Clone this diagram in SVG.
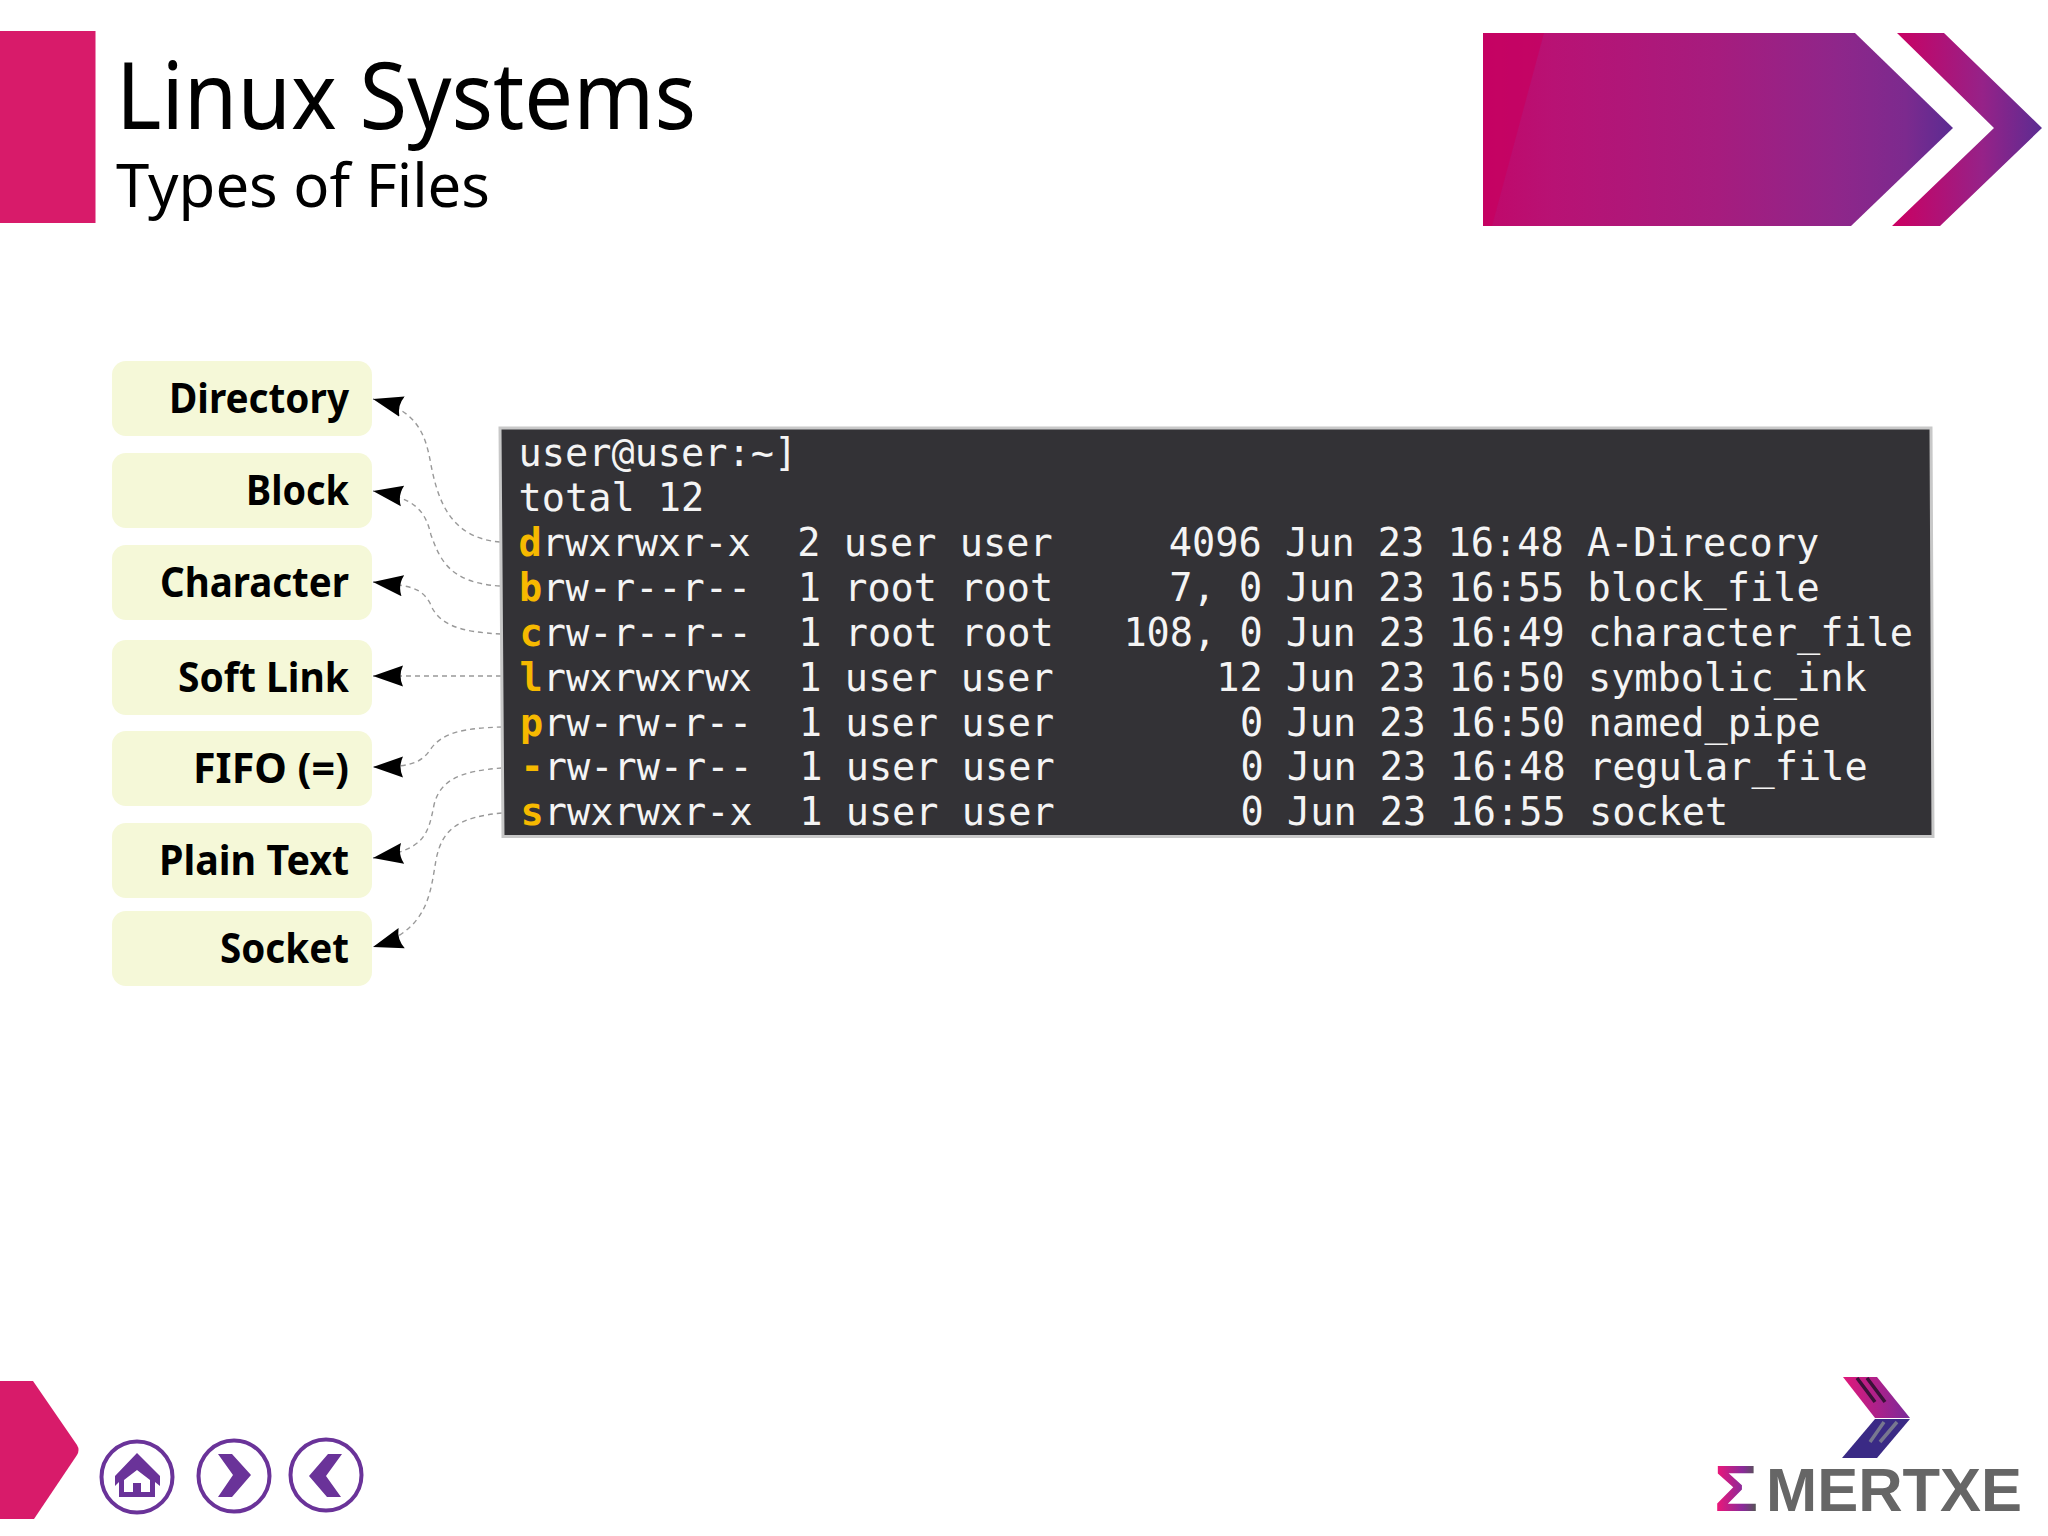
<svg xmlns="http://www.w3.org/2000/svg" width="2048" height="1536" viewBox="0 0 2048 1536">
<defs>
<style>
.node rect{fill:#f5f8d8}
.node text{font-family:"Noto Sans","Open Sans",sans-serif;font-weight:700;font-size:41px;fill:#000}
.head{font-family:"Noto Sans","Open Sans",sans-serif;fill:#000}
.conn{fill:none;stroke:#999;stroke-width:1.4;stroke-dasharray:5 4;marker-end:url(#stealth)}
.term text{font-family:"DejaVu Sans Mono","Liberation Mono",monospace;font-size:38.6px;fill:#f4f4f4;white-space:pre}
.term tspan{font-weight:700;fill:#f6b900}
.btn circle{fill:#fff;stroke:#6a3399;stroke-width:4}
.btn path{fill:#6a3399}
</style>
<linearGradient id="g1" gradientUnits="userSpaceOnUse" x1="1483" y1="0" x2="1953" y2="0">
<stop offset="0" stop-color="#c0086a"/><stop offset=".15" stop-color="#b81274"/><stop offset=".5" stop-color="#a61c7e"/><stop offset=".75" stop-color="#8f268a"/><stop offset=".9" stop-color="#7c2a8e"/><stop offset="1" stop-color="#5b2c92"/>
</linearGradient>
<linearGradient id="g2" gradientUnits="userSpaceOnUse" x1="1893" y1="0" x2="2042" y2="0">
<stop offset="0" stop-color="#cb0062"/><stop offset=".6" stop-color="#962288"/><stop offset="1" stop-color="#5b2c92"/>
</linearGradient>
<linearGradient id="g3" gradientUnits="userSpaceOnUse" x1="1843" y1="0" x2="1910" y2="0">
<stop offset="0" stop-color="#e0187a"/><stop offset="1" stop-color="#7a2a9a"/>
</linearGradient>
<linearGradient id="g4" gradientUnits="userSpaceOnUse" x1="1718" y1="0" x2="1756" y2="0">
<stop offset="0" stop-color="#e8187a"/><stop offset=".65" stop-color="#8a2a9a"/><stop offset="1" stop-color="#555"/>
</linearGradient>
<marker id="stealth" markerUnits="userSpaceOnUse" markerWidth="32" markerHeight="24" viewBox="0 0 32 24" refX="30" refY="12" orient="auto">
<path d="M30,12L0,1.5Q5,12 0,22.5Z" fill="#000"/>
</marker>
</defs>
<rect width="2048" height="1536" fill="#fff"/>

<g id="header">
<rect x="0" y="31" width="95.500" height="192" fill="#d81b6a"/>
<text class="head" x="116" y="129" font-size="93" textLength="580" lengthAdjust="spacingAndGlyphs">Linux Systems</text>
<text class="head" x="116" y="207" font-size="61" textLength="374" lengthAdjust="spacingAndGlyphs">Types of Files</text>
<polygon points="1483,33 1855,33 1953,128 1851,226 1483,226" fill="url(#g1)"/>
<polygon points="1483,33 1544,33 1492,226 1483,226" fill="#c8005f" fill-opacity=".7"/>
<polygon points="1897,33 1944,33 2042,128 1940,226 1892,226 1994,128" fill="url(#g2)"/>
</g>

<g id="connectors">
<path class="conn" d="M500,542C450,538 438,500 431,465C425,430 415,410 373,399"/>
<path class="conn" d="M500,586C450,583 440,560 431,535C425,510 415,498 373,491"/>
<path class="conn" d="M501,634C460,632 438,625 430,603C420,585 405,586 373,582"/>
<path class="conn" d="M501,676L373,676"/>
<path class="conn" d="M502,727C465,728 442,732 430,750C420,765 405,767 373,767"/>
<path class="conn" d="M502,768C460,771 440,780 434,805C428,835 425,850 373,858"/>
<path class="conn" d="M502,813C460,817 442,828 436,860C430,895 428,930 373,947"/>
</g>

<g id="node-directory" class="node"><rect x="112" y="361" width="260" height="75" rx="14"/><text x="169" y="413" textLength="180" lengthAdjust="spacingAndGlyphs">Directory</text></g>
<g id="node-block" class="node"><rect x="112" y="453" width="260" height="75" rx="14"/><text x="246" y="505" textLength="103" lengthAdjust="spacingAndGlyphs">Block</text></g>
<g id="node-character" class="node"><rect x="112" y="545" width="260" height="75" rx="14"/><text x="160" y="597" textLength="189" lengthAdjust="spacingAndGlyphs">Character</text></g>
<g id="node-softlink" class="node"><rect x="112" y="640" width="260" height="75" rx="14"/><text x="178" y="692" textLength="171" lengthAdjust="spacingAndGlyphs">Soft Link</text></g>
<g id="node-fifo" class="node"><rect x="112" y="731" width="260" height="75" rx="14"/><text x="193" y="783" textLength="156" lengthAdjust="spacingAndGlyphs">FIFO (=)</text></g>
<g id="node-plaintext" class="node"><rect x="112" y="823" width="260" height="75" rx="14"/><text x="159" y="875" textLength="190" lengthAdjust="spacingAndGlyphs">Plain Text</text></g>
<g id="node-socket" class="node"><rect x="112" y="911" width="260" height="75" rx="14"/><text x="220" y="963" textLength="129" lengthAdjust="spacingAndGlyphs">Socket</text></g>

<g id="terminal" class="term">
<polygon points="500,428 1931,428 1933,836.500 503,836.500" fill="#333236" stroke="#c8c8c8" stroke-width="3"/>
<text x="518.500" y="466">user@user:~]</text>
<text x="518.500" y="511">total 12</text>
<text x="518.500" y="555.500"><tspan>d</tspan>rwxrwxr-x  2 user user     4096 Jun 23 16:48 A-Direcory</text>
<text x="519" y="600.500"><tspan>b</tspan>rw-r--r--  1 root root     7, 0 Jun 23 16:55 block_file</text>
<text x="519.500" y="645.500"><tspan>c</tspan>rw-r--r--  1 root root   108, 0 Jun 23 16:49 character_file</text>
<text x="519.500" y="690.500"><tspan>l</tspan>rwxrwxrwx  1 user user       12 Jun 23 16:50 symbolic_ink</text>
<text x="520" y="735.500"><tspan>p</tspan>rw-rw-r--  1 user user        0 Jun 23 16:50 named_pipe</text>
<text x="520.500" y="780"><tspan>-</tspan>rw-rw-r--  1 user user        0 Jun 23 16:48 regular_file</text>
<text x="520.500" y="825"><tspan>s</tspan>rwxrwxr-x  1 user user        0 Jun 23 16:55 socket</text>
</g>

<g id="footer">
<path d="M0,1381H33L77,1445Q80,1450 77,1455L34,1519H0Z" fill="#d81b6a"/>
<g id="btn-home" class="btn"><circle cx="137" cy="1477" r="35.500"/>
<path d="M137,1453L160,1476V1486L155,1482V1497H119V1482L115,1486V1476ZM124,1480V1492H133V1483H141V1492H150V1480L137,1470Z" fill-rule="evenodd"/></g>
<g id="btn-next" class="btn"><circle cx="234" cy="1476" r="35.500"/>
<path d="M218,1454H232L251,1475L232,1497H218L233,1475Z"/></g>
<g id="btn-prev" class="btn"><circle cx="326" cy="1475" r="35.500"/>
<path d="M342,1454H328L309,1476L327,1497H341L326,1476Z"/></g>
</g>

<g id="logo">
<polygon points="1843,1377 1877,1377 1910,1418 1875,1418" fill="url(#g3)"/>
<polygon points="1875,1419 1910,1419 1877,1458 1842,1458" fill="#3a2a85"/>
<path d="M1857,1378L1875,1402M1867,1378L1885,1402" stroke="#3a1238" stroke-width="3.500" fill="none"/>
<path d="M1884,1422L1870,1442M1897,1422L1880,1442" stroke="#77778f" stroke-width="3.500" fill="none"/>
<text x="1714" y="1511" font-family="Liberation Sans,sans-serif" font-weight="700" font-size="64" fill="url(#g4)" textLength="44" lengthAdjust="spacingAndGlyphs">Σ</text>
<text x="1766" y="1511" font-family="Liberation Sans,sans-serif" font-weight="700" font-size="62" fill="#666" textLength="256" lengthAdjust="spacingAndGlyphs">MERTXE</text>
</g>
</svg>
